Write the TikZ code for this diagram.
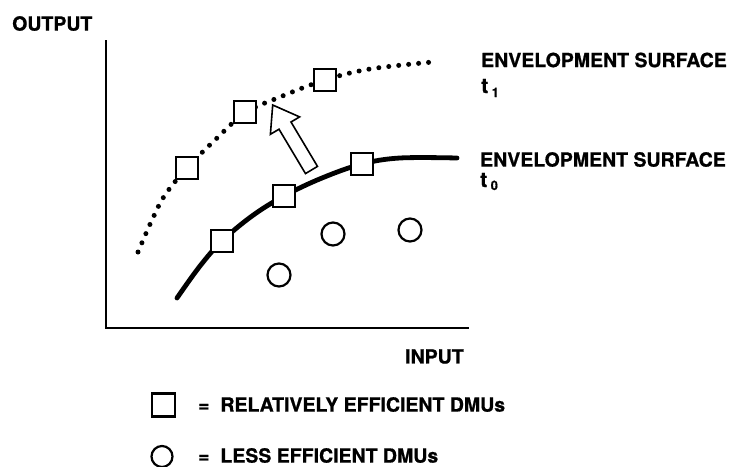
\documentclass[tikz,border=0pt]{standalone}
\usepackage{fontspec}
\setmainfont{TeX Gyre Heros}[BoldFeatures={FakeBold=0.8}]
\begin{document}
\begin{tikzpicture}[x=1pt,y=-1pt,
  lbl/.style={font=\bfseries\fontsize{19.5}{19.5}\selectfont, inner sep=0pt},
  tlbl/.style={font=\bfseries\fontsize{21}{21}\selectfont, inner sep=0pt, anchor=base west},
  dmu/.style={draw, line width=2.2pt, fill=white, minimum size=22pt, inner sep=0pt},
  eff/.style={dmu, rectangle},
  ineff/.style={dmu, circle, minimum size=23pt},
  axis/.style={line width=2.4pt},
  envelope/.style={line width=4.8pt, line cap=round},
  dots/.style={line width=5pt, line cap=round, dash pattern=on 0pt off 10pt}]
\useasboundingbox (0,0) rectangle (731,466);

% axes
\coordinate (ytop) at (106,40);
\coordinate (origin) at (106,328);
\coordinate (xend) at (469,328);
\draw[axis] (ytop) -- (origin) -- (xend);
\node[lbl, anchor=west] (outlbl) at (12,23.5) {OUTPUT};
\node[lbl, anchor=west] (inlbl) at (405,356.5) {INPUT};

% envelopment surface at t1 (dotted)
\draw[dots] plot[smooth, tension=0.6] coordinates
  {(138,252) (152,220) (165,195) (187,168) (215,140) (245,113) (280,97) (325,80) (370,69) (433,62)};
% envelopment surface at t0 (solid)
\draw[envelope] plot[smooth, tension=0.6] coordinates
  {(177,298) (200,266) (222,241) (252,216) (284,196) (322,178) (362,164) (400,158) (457,158)};

% shift of the surface: hollow arrow
\draw[line width=1.6pt, fill=white, line join=miter]
  (317.5,166.4) -- (291,122) -- (299.6,116.9) -- (272.7,105)
  -- (270.4,134.3) -- (279,129.2) -- (305.5,173.6) -- cycle;

% efficient DMUs
\node[eff] (a1) at (187,168) {};
\node[eff] (a2) at (245,112) {};
\node[eff] (a3) at (325,80) {};
\node[eff] (b1) at (222,241) {};
\node[eff] (b2) at (284,196) {};
\node[eff] (b3) at (362,164) {};
% less efficient DMUs
\node[ineff] (c1) at (333,234) {};
\node[ineff] (c2) at (410,230) {};
\node[ineff] (c3) at (279,275) {};

% surface labels
\node[lbl, anchor=west] (s1) at (481,60) {ENVELOPMENT SURFACE};
\node[tlbl] (t1) at (481,93) {t\,\raisebox{-4pt}{\fontsize{13}{13}\selectfont 1}};
\node[lbl, anchor=west] (s0) at (480,159.5) {ENVELOPMENT SURFACE};
\node[tlbl] (t0) at (480,187) {t\,\raisebox{-3pt}{\fontsize{13}{13}\selectfont 0}};

% legend
\node[eff, minimum size=23pt] (keysq) at (163.5,405) {};
\node[lbl, anchor=west] (keysqtxt) at (198,404.5) {=\ \ RELATIVELY EFFICIENT DMUs};
\node[ineff, minimum size=21pt] (keyci) at (162,456.5) {};
\node[lbl, anchor=west] (keycitxt) at (198,455.5) {=\ \ LESS EFFICIENT DMUs};
\end{tikzpicture}
\end{document}
